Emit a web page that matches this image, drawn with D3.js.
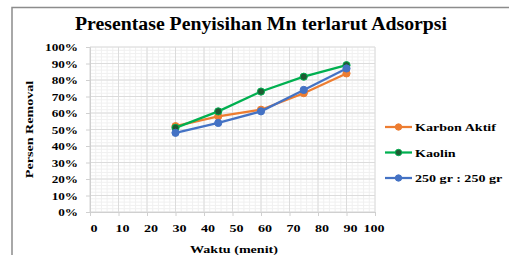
<!DOCTYPE html>
<html lang="en">
<head>
<meta charset="UTF-8">
<title>Presentase Penyisihan Mn</title>
<script src="https://d3js.org/d3.v7.min.js"></script>
<style>
  body{margin:0;background:#fff;}
  text{font-family:"Liberation Serif","Times New Roman",serif;font-weight:bold;fill:#000;}
</style>
</head>
<body>
<svg id="chart"></svg>
<script>
// data
var waktu = [30, 45, 60, 75, 90];
var karbonAktif = [52, 58, 62, 72, 84];
var kaolin = [51, 61, 73, 82, 89];
var campuran = [48, 54, 61, 74, 87];
var seriesNames = ["Karbon Aktif", "Kaolin", "250 gr : 250 gr"];
var xTicks = [0, 10, 20, 30, 40, 50, 60, 70, 80, 90, 100];
var yTicks = [0, 10, 20, 30, 40, 50, 60, 70, 80, 90, 100];

var W = 509, H = 255;
var sx = 1.28; // the picture text is stretched sideways
var svg = d3.select("#chart").attr("width", W).attr("height", H);

var series = [
  {name: seriesNames[0], values: karbonAktif, color: "#ED7D31", marker: "#ED7D31"},
  {name: seriesNames[1], values: kaolin, color: "#00B050", marker: "#1E5A32"},
  {name: seriesNames[2], values: campuran, color: "#4472C4", marker: "#4472C4"}
];

var x = d3.scaleLinear().domain([0, 100]).range([90, 375]);
var y = d3.scaleLinear().domain([0, 100]).range([212, 47]);

// outer frame
svg.append("rect").attr("x", 12).attr("y", 7.5).attr("width", 520).attr("height", 270)
  .attr("fill", "none").attr("stroke", "#8c8c8c").attr("stroke-width", 1.5);

function label(px, py, str, size, anchor, rot){
  var t = "translate(" + px + "," + py + ")" + (rot ? " rotate(" + rot + ")" : "") + " scale(" + sx + ",1)";
  return svg.append("text").attr("transform", t).attr("font-size", size)
    .attr("text-anchor", anchor || "middle").text(str);
}

// grid: minor then major
var grid = svg.append("g");
grid.selectAll(".vmin").data(d3.range(0, 101, 2)).enter().append("line")
  .attr("x1", x).attr("x2", x).attr("y1", y(0)).attr("y2", y(100))
  .attr("stroke", "#f0f0f0").attr("stroke-width", 1);
grid.selectAll(".hmin").data(d3.range(0, 101, 2)).enter().append("line")
  .attr("y1", y).attr("y2", y).attr("x1", x(0)).attr("x2", x(100))
  .attr("stroke", "#f0f0f0").attr("stroke-width", 1);
grid.selectAll(".vmaj").data(xTicks).enter().append("line")
  .attr("x1", x).attr("x2", x).attr("y1", y(0)).attr("y2", y(100))
  .attr("stroke", "#dcdcdc").attr("stroke-width", 1);
grid.selectAll(".hmaj").data(yTicks).enter().append("line")
  .attr("y1", y).attr("y2", y).attr("x1", x(0)).attr("x2", x(100))
  .attr("stroke", "#dcdcdc").attr("stroke-width", 1);

// axes
svg.append("g").attr("transform", "translate(0," + y(0) + ")")
  .call(d3.axisBottom(x).tickValues(xTicks).tickSize(4).tickFormat(""));
svg.append("g").attr("transform", "translate(" + x(0) + ",0)")
  .call(d3.axisLeft(y).tickValues(yTicks).tickSize(4).tickFormat(""));
svg.selectAll(".domain").attr("stroke", "#d0d0d0");
svg.selectAll(".tick line").attr("stroke", "#d0d0d0");

xTicks.forEach(function(v){ label(Math.min(x(v) + 4, 374), 232, String(v), 11, "middle"); });
yTicks.forEach(function(v){ label(78, y(v) + 4, v + "%", 11, "end").attr("transform",
  "translate(78," + (y(v) + 4) + ") scale(1.2,1)"); });

// title and axis titles
svg.append("text").attr("x", 261).attr("y", 30).attr("font-size", 18.5)
  .attr("text-anchor", "middle").attr("textLength", 372).attr("lengthAdjust", "spacingAndGlyphs")
  .text("Presentase Penyisihan Mn terlarut Adsorpsi");
label(234, 253, "Waktu (menit)", 11, "middle");
label(33, (y(0) + y(100)) / 2, "Persen Removal", 11, "middle", -90);

// lines
var line = d3.line().x(function(d){ return x(d[0]); }).y(function(d){ return y(d[1]); });
series.forEach(function(s){
  var pts = waktu.map(function(w, i){ return [w, s.values[i]]; });
  svg.append("path").datum(pts).attr("d", line).attr("fill", "none")
    .attr("stroke", s.color).attr("stroke-width", 2.25);
  svg.append("g").selectAll("circle").data(pts).enter().append("circle")
    .attr("cx", function(d){ return x(d[0]); }).attr("cy", function(d){ return y(d[1]); })
    .attr("r", 3.6).attr("fill", s.marker).attr("stroke", s.color).attr("stroke-width", 1);
});

// legend
var legend = svg.append("g");
series.forEach(function(s, i){
  var ly = 127 + i * 25.5;
  legend.append("line").attr("x1", 385).attr("x2", 412).attr("y1", ly).attr("y2", ly)
    .attr("stroke", s.color).attr("stroke-width", 2.25);
  legend.append("circle").attr("cx", 398.5).attr("cy", ly).attr("r", 3.2)
    .attr("fill", s.marker).attr("stroke", s.color).attr("stroke-width", 1);
  label(415, ly + 4, s.name, 11, "start");
});
</script>
</body>
</html>
